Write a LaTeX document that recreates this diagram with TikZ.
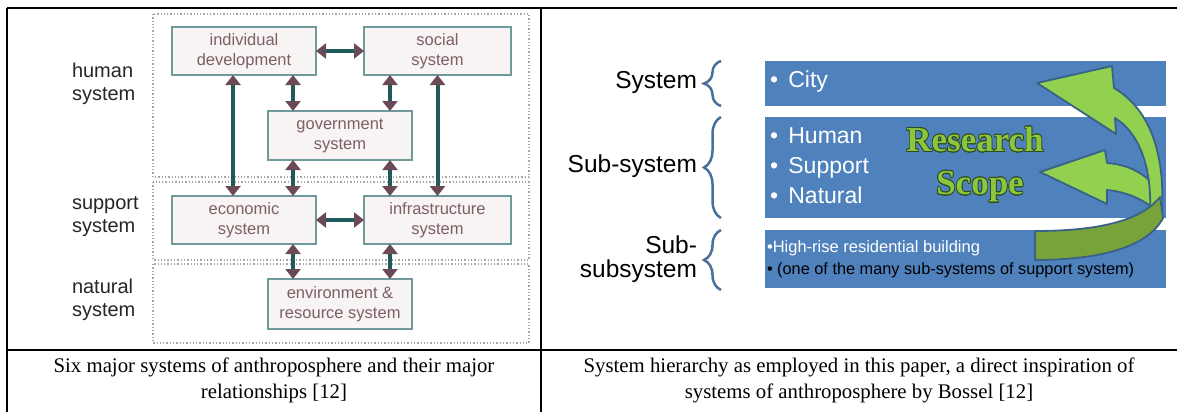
\documentclass[tikz,border=0pt]{standalone}
\usepackage{fontspec}
\setmainfont{Liberation Serif}
\setsansfont{Liberation Sans}
\usepackage[copies]{contour}
\usepackage{tikz}
\usetikzlibrary{arrows.meta,positioning,decorations.pathreplacing,calc}

\definecolor{boxfill}{HTML}{F7F4F3}
\definecolor{boxedge}{HTML}{6E9A9A}
\definecolor{boxtext}{HTML}{7D5F66}
\definecolor{shaft}{HTML}{1F5A5C}
\definecolor{head}{HTML}{6B4A55}
\definecolor{bandblue}{HTML}{4F81BD}
\definecolor{bracecol}{HTML}{4A7099}
\definecolor{arlight}{HTML}{92D050}
\definecolor{ardark}{HTML}{77A33A}
\definecolor{aredge}{HTML}{3A6286}
\definecolor{rsgreen}{HTML}{8CC63F}
\definecolor{rsedge}{HTML}{2E4A1C}
\contourlength{0.7pt}

\begin{document}
\begin{tikzpicture}[x=1pt, y=-1pt,
  every node/.style={inner sep=0pt, outer sep=0pt},
  rule/.style={line width=2.2pt},
  zone/.style={draw=gray!70, dotted, line width=1.3pt},
  sysbox/.style={draw=boxedge, fill=boxfill, line width=1.2pt, text=boxtext,
    font=\sffamily\fontsize{16.5}{20}\selectfont, align=center,
    minimum width=144pt, minimum height=48pt},
  link/.style={draw=shaft, line width=4pt,
    {Triangle[color=head,width=15pt,length=10pt]}-{Triangle[color=head,width=15pt,length=10pt]}},
  sidelbl/.style={font=\sffamily\fontsize{20}{23}\selectfont, text=black!85, align=left, anchor=west},
  band/.style={fill=bandblue, minimum width=401pt, anchor=north west},
  bandtxt/.style={text=white, font=\sffamily\fontsize{23}{30}\selectfont, align=left, anchor=west},
  levellbl/.style={font=\sffamily\fontsize{24.5}{24}\selectfont, align=right, anchor=east},
  brace/.style={draw=bracecol, line width=2.5pt, decorate, decoration={brace, amplitude=17pt}},
  rstext/.style={text=rsgreen, font=\bfseries\fontsize{35}{40}\selectfont},
  greenar/.style={fill=arlight, draw=aredge, line width=1.8pt, line join=round},
  caption/.style={font=\fontsize{20.8}{26}\selectfont, align=center}]
  \useasboundingbox (0,0) rectangle (1177,412);

  % ---- table rules
  \draw[rule] (7,8) -- (1177,8);
  \draw[rule] (7,8) -- (7,412);
  \draw[rule] (541,8) -- (541,412);
  \draw[rule] (7,350) -- (1177,350);

  % ---- left: six systems
  \draw[zone] (153,14) rectangle (529,177);
  \draw[zone] (153,182) rectangle (529,260);
  \draw[zone] (153,264) rectangle (529,343);
  \node[sidelbl] (lhuman) at (72,84) {human\\system};
  \node[sidelbl] (lsupport) at (72,217) {support\\system};
  \node[sidelbl] (lnatural) at (72,300) {natural\\system};

  \node[sysbox] (indiv) at (244,51) {individual\\development};
  \node[sysbox, minimum width=147pt] (social) at (437.5,51) {social\\system};
  \node[sysbox, minimum height=49pt] (govt) at (340,135.5) {government\\system};
  \node[sysbox] (econ) at (244,220) {economic\\system};
  \node[sysbox, minimum width=147pt] (infra) at (437.5,220) {infrastructure\\system};
  \node[sysbox, minimum height=50pt] (env) at (340,304) {environment \&\\resource system};

  \coordinate (ca) at (233,0);
  \coordinate (cb) at (293,0);
  \coordinate (cc) at (390,0);
  \coordinate (cd) at (437.5,0);
  \draw[link] (indiv) -- (social);
  \draw[link] (econ) -- (infra);
  \draw[link] (indiv.south -| ca) -- (econ.north -| ca);
  \draw[link] (social.south -| cd) -- (infra.north -| cd);
  \draw[link] (indiv.south -| cb) -- (govt.north -| cb);
  \draw[link] (social.south -| cc) -- (govt.north -| cc);
  \draw[link] (govt.south -| cb) -- (econ.north -| cb);
  \draw[link] (govt.south -| cc) -- (infra.north -| cc);
  \draw[link] (econ.south -| cb) -- (env.north -| cb);
  \draw[link] (infra.south -| cc) -- (env.north -| cc);

  % ---- right: system hierarchy
  \node[band, minimum height=45pt] (bcity) at (765,61) {};
  \node[band, minimum height=101pt] (bsub) at (765,117) {};
  \node[band, minimum height=58pt] (bbuild) at (765,230) {};

  \draw[brace] (721,106) -- (721,61);
  \draw[brace] (721,218) -- (721,117);
  \draw[brace] (721,290) -- (721,230);
  \node[levellbl] (lsys) at (697,82) {System};
  \node[levellbl] (lsub) at (697,166) {Sub-system};
  \node[levellbl] (lsubsub) at (697,259) {Sub-\\subsystem};

  \node[bandtxt] (tcity) at (770,82) {•\hspace{0.45em}City};
  \node[bandtxt] (tsub) at (770,166) {•\hspace{0.45em}Human\\•\hspace{0.45em}Support\\•\hspace{0.45em}Natural};
  \node[bandtxt, font=\sffamily\fontsize{16.5}{20}\selectfont] (tbuild) at (767,248) {•High-rise residential building};
  \node[bandtxt, text=black, font=\sffamily\fontsize{16.3}{18}\selectfont] (tnote) at (767,270) {• (one of the many sub-systems of support system)};

  \node[rstext] (research) at (975,140) {\contour{rsedge}{Research}};
  \node[rstext] (scope) at (980,187) {\contour{rsedge}{Scope}};

  % curved arrows of the research scope
  \draw[greenar] (1040,172) -- (1105,150) -- (1107,163)
    .. controls (1135,165) and (1155,180) .. (1162,200) -- (1160,215)
    .. controls (1150,203) and (1130,192) .. (1107,190) -- (1107,204) -- cycle;
  \draw[greenar] (1037,83) -- (1112,66) -- (1114,88)
    .. controls (1148,108) and (1165,150) .. (1162,210) -- (1150,212)
    .. controls (1152,165) and (1138,132) .. (1115,118) -- (1116,134) -- cycle;
  \draw[greenar, fill=ardark] (1035,231)
    .. controls (1095,231) and (1140,222) .. (1160,197) -- (1163,218)
    .. controls (1148,247) and (1100,260) .. (1035,260) -- cycle;

  % ---- captions
  \node[caption] (capl) at (274,380) {Six major systems of anthroposphere and their major\\relationships [12]};
  \node[caption] (capr) at (859,380) {System hierarchy as employed in this paper, a direct inspiration of\\systems of anthroposphere by Bossel [12]};
\end{tikzpicture}
\end{document}
